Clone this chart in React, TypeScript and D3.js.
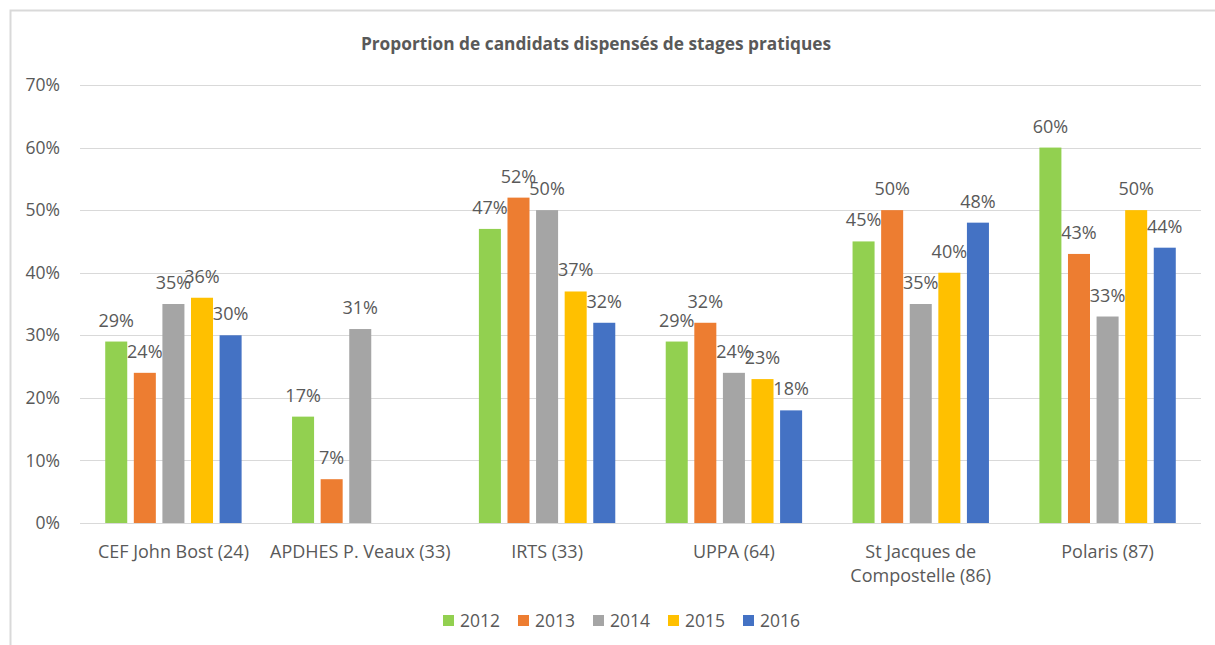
import React from "react";
import * as d3 from "d3";

const categories = [
  ["CEF John Bost (24)"],
  ["APDHES P. Veaux (33)"],
  ["IRTS (33)"],
  ["UPPA (64)"],
  ["St Jacques de", "Compostelle (86)"],
  ["Polaris (87)"],
];
const years = ["2012", "2013", "2014", "2015", "2016"];
const v2012 = [29, 17, 47, 29, 45, 60];
const v2013 = [24, 7, 52, 32, 50, 43];
const v2014 = [35, 31, 50, 24, 35, 33];
const v2015 = [36, null, 37, 23, 40, 50];
const v2016 = [30, null, 32, 18, 48, 44];
const yTicks = [0, 10, 20, 30, 40, 50, 60, 70];
const colors = ["#92d050", "#ed7d31", "#a5a5a5", "#ffc000", "#4472c4"];

const series = [v2012, v2013, v2014, v2015, v2016];
const font = "'Open Sans', 'Segoe UI', sans-serif";
const textColor = "#595959";

export default function App() {
  const W = 1215, H = 645;
  const left = 80, right = 1201, top = 85, bottom = 523;
  const keys = categories.map((c) => c.join(" "));

  const x0 = d3.scaleBand<string>().domain(keys).range([left, right])
    .paddingInner(0.27).paddingOuter(0.135);
  const x1 = d3.scaleBand<string>().domain(years).range([0, x0.bandwidth()])
    .paddingInner(0.23).paddingOuter(0);
  const y = d3.scaleLinear().domain([0, 70]).range([bottom, top]);

  return (
    <svg width={W} height={H} style={{ position: "absolute", left: 0, top: 0, background: "#fff" }}
      fontFamily={font}>
      <rect x={10.5} y={10.5} width={1400} height={1000} fill="#fff" stroke="#d9d9d9" strokeWidth={2} />
      <text x={596} y={50} textAnchor="middle" fontSize={17.3} fontWeight="bold" fill={textColor}>
        Proportion de candidats dispensés de stages pratiques
      </text>
      {yTicks.map((t) => (
        <g key={t}>
          <line x1={left} x2={right} y1={Math.round(y(t)) + 0.5} y2={Math.round(y(t)) + 0.5}
            stroke="#d9d9d9" strokeWidth={1} />
          <text x={60} y={y(t)} dy="0.35em" textAnchor="end" fontSize={17.5} fill={textColor}>
            {t}%
          </text>
        </g>
      ))}
      {keys.map((k, ci) => (
        <g key={k} transform={`translate(${x0(k)},0)`}>
          {years.map((yr, si) => {
            const v = series[si][ci];
            if (v == null) return null;
            const bx = x1(yr)!;
            return (
              <g key={yr}>
                <rect x={bx} y={y(v)} width={x1.bandwidth()} height={bottom - y(v)} fill={colors[si]} />
                <text x={bx + x1.bandwidth() / 2} y={y(v) - 15} textAnchor="middle" fontSize={18}
                  fill={textColor}>
                  {v}%
                </text>
              </g>
            );
          })}
          {categories[ci].map((line, li) => (
            <text key={li} x={x0.bandwidth() / 2} y={552 + li * 24} dy="0.35em" textAnchor="middle"
              fontSize={18} fill={textColor}>
              {line}
            </text>
          ))}
        </g>
      ))}
      {years.map((yr, i) => (
        <g key={yr} transform={`translate(${443 + i * 75},615)`}>
          <rect x={0} y={0} width={11} height={11} fill={colors[i]} />
          <text x={17} y={5.5} dy="0.35em" fontSize={17.5} fill={textColor}>{yr}</text>
        </g>
      ))}
    </svg>
  );
}
